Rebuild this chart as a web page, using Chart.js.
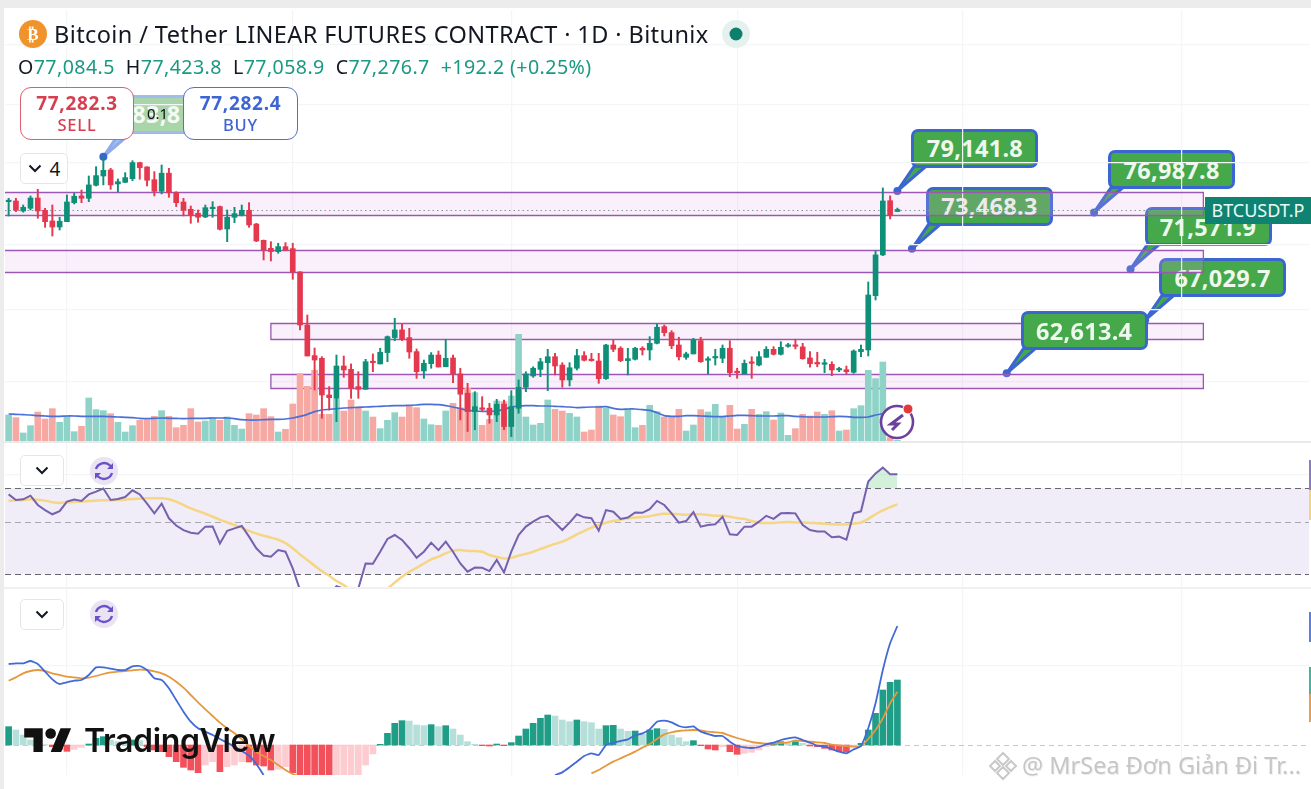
<!DOCTYPE html>
<html lang="en"><head><meta charset="utf-8">
<script src="https://cdn.jsdelivr.net/npm/chart.js@4"></script>
<style>
html,body{margin:0;padding:0;background:#fff;width:1311px;height:789px;overflow:hidden;font-family:"Noto Sans",sans-serif}
.abs{position:absolute}
canvas{position:absolute;z-index:2}
.ui{z-index:4}
.call{position:absolute;z-index:1;box-sizing:border-box;border:3px solid #3b66d1;border-radius:7px;background:#45a84a;color:#eef8ee;font:700 23.5px "Noto Sans",sans-serif;display:flex;align-items:center;justify-content:center;letter-spacing:.3px}
.tv{display:flex;align-items:center;justify-content:center;box-sizing:border-box;background:#fff;border:1.5px solid #e6e6e6;border-radius:5px}
.trade{box-sizing:border-box;background:#fff;border-radius:11px;text-align:center;font-weight:600}
</style></head><body>
<div class="abs" style="left:0;top:0;width:1311px;height:8px;background:#ececec"></div>
<div class="abs" style="left:0;top:0;width:4px;height:789px;background:#ececec"></div>
<div class="abs" style="left:4px;top:441px;width:1307px;height:1.5px;background:#e9e9ec"></div>
<div class="abs" style="left:4px;top:587px;width:1307px;height:1.5px;background:#f0f0f2"></div>
<svg id="tails" class="abs" style="left:0;top:0;z-index:1" width="1311" height="789"></svg>
<div id="calls"></div>
<canvas id="main" style="left:5px;top:10px" width="1304" height="431"></canvas>
<canvas id="rsi" style="left:5px;top:443px" width="1304" height="144"></canvas>
<canvas id="macd" style="left:5px;top:589px" width="1304" height="186"></canvas>

<!-- header -->
<svg class="abs ui" style="left:19px;top:20px" width="28" height="28"><circle cx="14" cy="14" r="14" fill="#f0932b"/><text x="14" y="20" text-anchor="middle" fill="#fff" font-family="DejaVu Sans" font-weight="700" font-size="17">₿</text></svg>
<div class="abs ui" style="left:54px;top:17px;font-size:23.5px;letter-spacing:.4px;color:#131722;white-space:nowrap;line-height:34px">Bitcoin / Tether LINEAR FUTURES CONTRACT · 1D · Bitunix</div>
<svg class="abs ui" style="left:722px;top:20px" width="28" height="28"><circle cx="14" cy="14" r="14" fill="#e4f1ef"/><circle cx="14" cy="14" r="6.5" fill="#0f7f6d"/></svg>
<div class="abs ui" style="left:18px;top:53px;font-size:19.6px;letter-spacing:.42px;line-height:28px;white-space:nowrap;color:#131722">O<span style="color:#1a9a82">77,084.5</span>&nbsp; H<span style="color:#1a9a82">77,423.8</span>&nbsp; L<span style="color:#1a9a82">77,058.9</span>&nbsp; C<span style="color:#1a9a82">77,276.7</span>&nbsp; <span style="color:#1a9a82">+192.2 (+0.25%)</span></div>

<!-- trade widget -->
<div class="abs ui" style="left:134px;top:93px;width:50px;height:40px;background:rgba(255,255,255,.08)"></div>
<div class="abs ui" style="left:147px;top:103px;font-size:15px;line-height:20px;color:#111">0.1</div>
<div class="abs ui trade" style="left:20px;top:87px;width:114px;height:53px;border:1.5px solid #d9606e;color:#d63f50">
  <div style="font-size:19px;letter-spacing:.7px;line-height:22px;margin-top:4px;font-weight:700">77,282.3</div><div style="font-size:16.5px;letter-spacing:.8px;line-height:22px;font-weight:500">SELL</div></div>
<div class="abs ui trade" style="left:183px;top:87px;width:115px;height:53px;border:1.5px solid #5470c8;color:#3f65d2">
  <div style="font-size:19px;letter-spacing:.7px;line-height:22px;margin-top:4px;font-weight:700">77,282.4</div><div style="font-size:16.5px;letter-spacing:.8px;line-height:22px;font-weight:500">BUY</div></div>

<!-- pane buttons -->
<div class="abs ui tv" style="left:20px;top:153px;width:48px;height:31px"><svg width="14" height="9" style="margin-right:8px"><path d="M1.5 1.5 7 7l5.5-5.5" stroke="#131722" stroke-width="2" fill="none"/></svg><span style="font-size:19px;color:#131722">4</span></div>
<div class="abs ui tv" style="left:20px;top:455px;width:44px;height:31px"><svg width="14" height="9"><path d="M1.5 1.5 7 7l5.5-5.5" stroke="#131722" stroke-width="2" fill="none"/></svg></div>
<div class="abs ui tv" style="left:20px;top:599px;width:44px;height:31px"><svg width="14" height="9"><path d="M1.5 1.5 7 7l5.5-5.5" stroke="#131722" stroke-width="2" fill="none"/></svg></div>
<svg class="abs ui" style="left:90px;top:457px" width="28" height="28" viewBox="0 0 28 28"><circle cx="14" cy="14" r="14" fill="#e9e3f4"/><path d="M6 12a8.5 8.5 0 0 1 14-3.5l1.5 1.5M22 16a8.5 8.5 0 0 1-14 3.5L6.5 18" stroke="#6a50cc" stroke-width="2.4" fill="none"/><path d="M23 6v6h-6zM5 22v-6h6z" fill="#6a50cc"/></svg>
<svg class="abs ui" style="left:90px;top:600px" width="28" height="28" viewBox="0 0 28 28"><circle cx="14" cy="14" r="14" fill="#e9e3f4"/><path d="M6 12a8.5 8.5 0 0 1 14-3.5l1.5 1.5M22 16a8.5 8.5 0 0 1-14 3.5L6.5 18" stroke="#6a50cc" stroke-width="2.4" fill="none"/><path d="M23 6v6h-6zM5 22v-6h6z" fill="#6a50cc"/></svg>

<!-- bolt -->
<svg class="abs ui" style="left:878px;top:402px" width="40" height="40"><circle cx="19" cy="20" r="16" fill="#fff" stroke="#6d3f9f" stroke-width="2.6"/><path d="M25 13 13 22h7l-6 6" stroke="#6d3f9f" stroke-width="3" fill="none"/><circle cx="30" cy="7" r="5" fill="#e23a3a" stroke="#fff" stroke-width="1"/></svg>

<!-- symbol label and price axis slivers -->
<div class="abs ui" style="left:1205px;top:197px;width:106px;height:27px;background:#0f8372;color:#eafaf6;font-size:18px;line-height:27px;text-align:center">BTCUSDT.P</div>
<div class="abs ui" style="left:1309px;top:460px;width:2px;height:30px;background:#8e7cc3"></div>
<div class="abs ui" style="left:1309px;top:490px;width:2px;height:30px;background:#f3d37c"></div>
<div class="abs ui" style="left:1309px;top:612px;width:2px;height:30px;background:#5a7fdc"></div>
<div class="abs ui" style="left:1309px;top:667px;width:2px;height:27px;background:#45b39d"></div>
<div class="abs ui" style="left:1309px;top:694px;width:2px;height:28px;background:#e8a050"></div>

<!-- TradingView logo -->
<svg class="abs ui" style="left:24px;top:723px" width="48" height="37" viewBox="0 0 36 28"><path d="M14 22H7V11H0V4h14v18zM28 22h-8l7.5-18h8L28 22z" fill="#111"/><circle cx="20" cy="8" r="4" fill="#111"/></svg>
<div class="abs ui" style="left:84px;top:721px;font:600 32px/40px Inter,sans-serif;color:#111;letter-spacing:-.35px;white-space:nowrap">TradingView</div>

<!-- watermark -->
<svg class="abs ui" style="left:988px;top:751px" width="30" height="30" viewBox="0 0 30 30" fill="none" stroke="#c9c9c9" stroke-width="2"><path d="M15 2 21 8l-6 6-6-6zM7 10l-5 5 5 5 5-5zM23 10l-5 5 5 5 5-5zM15 16l-6 6 6 6 6-6z"/></svg>
<div class="abs ui" style="left:1022px;top:749px;font-size:23.5px;line-height:32px;color:#c6c6c6;white-space:nowrap;text-shadow:1px 1px 1px rgba(0,0,0,.08)">@ MrSea Đơn Giản Đi Tr...</div>

<script>
const open_ = [78060,78130,77130,77400,78430,77200,76150,75560,76080,77960,78640,78400,79720,80680,81310,79860,80030,80400,82080,81620,
80300,79110,80970,78970,78030,77300,76910,76540,77360,77570,75370,76510,76740,77200,75850,74280,73520,73210,73680,73490,
71320,66620,64050,63830,60890,60630,63200,62930,61550,61340,63530,63370,64300,65550,66200,65550,64380,62800,63390,64100,
63140,63860,62560,61030,59600,59860,59860,59350,60170,58470,59860,61500,62400,62930,63470,63960,63280,62080,63020,64050,
63690,63610,62180,64930,64660,63640,63750,64660,64520,65070,66480,65970,64930,63910,64190,65290,63670,63860,63830,64660,
62740,62560,63470,63280,63910,64570,64160,64820,64870,64770,63860,63470,63340,63340,62880,62900,62690,64380,64520,69180,
72900,78160,77084.5];
const close_ = [78160,77200,77500,78430,77130,76080,75560,76120,78030,78610,78400,79760,80720,81270,79760,80090,80510,82080,81550,80240,
79110,80970,78970,77960,77200,76740,76510,77460,77500,75340,76510,76870,77200,75760,74220,73360,73210,73680,73360,71320,
66620,64020,63690,60890,60680,63200,62880,61420,61340,63550,63470,64330,65630,66200,65410,64350,62740,63420,64100,63120,
63830,62560,60950,59600,59980,59780,59350,60170,58470,59980,61500,62560,63020,63550,63960,63200,62080,63060,64050,63670,
63640,62180,64930,64570,63640,63800,64660,64520,65070,66430,65970,64870,63960,64190,65350,63550,63750,63910,64660,62660,
62660,63420,63420,63960,64570,64160,64740,64870,64820,63800,63390,63370,63390,62880,62960,62740,64430,64570,69240,72900,
78130,76740,77276.7];
const high_ = [78400,78400,77730,78640,79310,77400,77730,76510,78740,78910,79240,80680,81650,82700,81480,80370,81030,82280,82120,81650,
81130,81830,81480,79070,78400,77630,77230,77730,78060,77630,77230,77500,77730,77960,75920,74310,74150,74000,74060,74000,
71350,67480,64680,63960,61550,64100,64020,63370,62740,63750,64190,64660,65690,67200,66710,66340,64600,63690,64300,64430,
65410,64100,63020,61810,61150,60760,60240,60550,60500,61230,62080,62740,63140,63830,64570,64240,63470,63470,64570,64380,
64240,64240,64990,65350,64790,64660,64740,64790,65630,66710,66620,66140,65580,64330,65490,65580,63960,64570,64930,65290,
63020,63690,63960,64380,64790,64790,65210,65070,65410,65070,64380,64330,63750,63550,63100,63200,64520,64930,70410,73300,
79450,78640,77423.8];
const low_ = [76640,77070,77010,77230,76410,75530,74690,75270,76080,77830,77960,78060,79650,79760,79310,79040,79990,80200,80340,79650,
78640,78840,78500,77570,76640,75920,76020,76470,76510,75270,74150,75980,76640,75530,74150,72430,72330,73050,73300,70650,
66200,64020,61280,59100,59730,58840,62290,60630,60630,61340,62740,63370,63550,65290,65290,63830,62210,62210,63020,63120,
63140,61860,58970,58100,58230,59600,58720,58840,58230,57720,59480,61150,62290,62340,61230,62480,61500,61600,62880,63610,
63590,61810,62130,64380,63550,62480,63690,64100,63690,65010,65690,64620,63690,63750,64190,63500,62560,63280,63470,62340,
62210,62560,62210,63200,63910,64100,64100,64740,64600,63750,63100,63140,62660,62420,62740,62560,62610,63960,64020,68800,
72830,76350,77058.9];
const volume_ = [78,70,24,46,87,66,97,56,75,28,44,129,94,91,82,56,27,46,62,63,
74,91,74,40,47,97,57,60,70,62,72,47,36,82,78,97,73,27,35,111,
202,164,212,80,80,125,90,123,102,90,72,37,62,85,72,104,100,66,49,47,
90,113,100,158,145,47,65,120,118,135,320,72,48,53,123,95,90,83,72,27,
33,105,98,78,73,95,40,47,107,88,72,72,95,30,48,94,87,110,72,107,
36,50,95,80,88,63,84,17,37,80,75,87,80,91,30,33,97,106,212,187,
237,10,2];
const volumeMA_ = [81,80,79,78,76,75,74,74,75,75,74,74,74,74,73,72,71,70,68,67,
68,69,68,68,67,68,68,68,69,69,69,67,64,63,63,64,65,65,66,69,
74,80,88,93,95,97,99,100,101,102,103,104,105,106,106,107,108,110,110,109,
106,102,97,92,90,89,89,90,95,102,105,106,106,105,105,104,103,102,100,101,
102,102,103,98,95,96,96,94,92,85,76,74,74,76,76,75,74,73,73,75,
77,77,76,75,75,75,76,76,74,73,72,72,72,73,74,73,71,71,72,78,
82,86,91];
const rsi_ = [65.9,62.4,62.8,65.1,59.4,56.5,54.2,55.9,61.4,62.6,61.8,65.9,67.7,69.8,62.4,63.0,64.2,68.6,65.9,60.2,
54.7,60.2,52.1,48.5,46.4,45.2,44.8,48.0,48.1,40.7,46.1,47.2,48.3,43.5,38.8,36.1,35.7,38.1,37.5,31.8,
25.7,24.9,25.3,22.9,24.5,26.7,26.1,24.5,26.1,33.4,33.3,37.5,42.5,44.2,42.1,38.8,35.3,37.5,41.0,38.1,
41.4,37.5,33.4,30.8,32.1,32.0,31.0,34.6,30.6,37.5,44.2,48.0,50.4,52.6,53.4,49.9,46.4,49.9,54.2,52.6,
52.1,46.1,56.5,55.6,51.8,52.5,55.2,55.0,57.0,61.8,59.4,54.7,49.9,50.7,55.4,48.0,48.8,49.1,52.9,44.5,
44.2,48.0,48.0,50.4,53.4,51.8,54.7,54.9,54.7,48.8,46.4,45.8,45.8,43.2,43.5,42.2,54.7,55.8,74.8,81.0,
85.8,80.4,80.4];
const rsiMA_ = [61.8,62.2,62.4,62.8,62.6,62.0,61.0,60.6,61.0,61.2,61.4,61.8,62.0,62.2,62.2,62.4,62.6,63.0,63.2,63.4,
63.4,63.4,62.8,61.4,59.4,57.4,55.9,54.5,52.9,51.4,50.0,48.8,47.5,46.0,44.8,43.9,43.1,42.2,40.8,38.8,
36.5,34.6,32.7,31.0,29.6,28.1,27.0,25.7,25.3,24.9,24.9,25.3,26.1,27.7,29.3,30.8,32.0,33.4,34.8,35.7,
36.9,37.9,38.1,37.8,37.8,37.5,36.3,35.6,35.1,35.3,36.1,36.7,37.5,38.5,39.5,40.5,41.4,42.8,44.5,46.0,
47.5,48.8,49.9,50.7,51.4,52.1,52.5,52.8,53.2,54.0,54.5,54.4,54.2,54.0,54.2,54.2,53.8,53.4,53.4,52.9,
52.2,51.8,50.7,49.9,49.8,49.8,50.0,50.2,50.0,50.0,49.8,49.6,49.4,49.1,49.0,49.0,49.4,50.0,51.8,54.2,
56.3,58.1,59.8];
const macd_ = [243,245,245,252,243,220,197,183,188,193,195,210,233,233,229,225,225,236,237,225,
200,195,170,135,100,70,50,40,30,18,7,-5,-18,-32,-57,-90,
null,null,null,null,null,null,null,null,null,null,null,null,null,null,null,null,null,null,null,null,
null,null,null,null,null,null,null,null,null,null,null,null,null,null,null,null,null,null,null,
-90,-82,-67,-50,-33,-25,-30,0,7,12,17,29,35,47,70,73,68,57,53,56,40,33,27,27,10,-3,-7,-9,-6,2,
7,15,20,23,15,7,-2,-4,-12,-20,-25,-13,-3,50,125,225,305,357];
const signal_ = [193,203,215,222,225,222,215,210,205,203,200,202,207,213,218,220,222,224,226,225,
221,215,205,190,172,150,128,107,87,67,50,35,17,-3,-20,-33,-45,-60,-75,-87,-95,
null,null,null,null,null,null,null,null,null,null,null,null,null,null,null,null,null,null,null,null,
null,null,null,null,null,null,null,null,null,null,null,null,null,null,null,null,null,null,null,
-85,-75,-62,-50,-40,-30,-20,-8,3,18,32,38,42,44,45,44,40,38,36,28,21,15,9,6,4,4,6,8,14,12,10,8,6,1,-2,-3,-5,-3,18,45,80,125,160];
const hist_ = [55,45,30,15,10,1,-5,-13,-19,-13,-7,3,20,25,15,10,8,15,13,-5,
-15,-20,-35,-50,-67,-75,-83,-60,-50,-80,-65,-60,-50,-51,-60,-63,-75,-73,-65,-83,
-110,-125,-135,-145,-155,-145,-125,-105,-90,-60,-27,2,35,65,73,72,60,58,61,55,
58,48,30,10,2,-2,-3,3,-2,7,27,48,65,80,90,87,75,70,75,70,
67,48,58,59,48,41,42,33,45,49,47,30,22,10,13,-2,-12,-15,-5,-20,
-28,-25,-22,-15,-5,2,10,7,10,5,-3,-5,-10,-15,-20,-21,-5,5,45,95,
165,188,195];

const slotCount = 179;
const categories = Array.from({length: slotCount}, (_, i) => String(i));
const gridSlots = [8,39,69,100,131,161];
const gridPrices = [95460,88390,82040,73830,67920,61920];
const rsiLevels = [70,50,30];
const zones = [
  {from:null,to:164,top:79040,bottom:76740},
  {from:null,to:164,top:73360,bottom:71270},
  {from:36,to:164,top:66800,bottom:65430},
  {from:36,to:164,top:62560,bottom:61440}
];
const callouts = [
  {text:'79,141.8',slot:122,price:79141.8},
  {text:'73,468.3',slot:124,price:73468.3},
  {text:'76,987.8',slot:149,price:76987.8},
  {text:'71,571.9',slot:154,price:71571.9},
  {text:'67,029.7',slot:156,price:67029.7},
  {text:'62,613.4',slot:137,price:62613.4,front:true},
  {text:'83,8',slot:13,price:82700,faded:true}
];

const UP='#0f8f78', DOWN='#e5384f', UP_V='#8fd2c7', DOWN_V='#f6a8a3';
const GRID='#f4f5f7';
const isUp = close_.map((c,i)=>c>=open_[i]);
const xScale = {type:'category',labels:categories,offset:true,
  grid:{color:c=>gridSlots.includes(c.index)?GRID:'rgba(0,0,0,0)',offset:false,drawTicks:false,lineWidth:1.2},
  border:{display:false},
  ticks:{display:false,autoSkip:false},
  afterFit(s){s.height=0}};
const hiddenY = (extra)=>Object.assign({position:'left',
  border:{display:false},
  grid:{color:GRID,drawTicks:false,lineWidth:1.2},
  ticks:{display:false},
  afterFit(s){s.width=0}},extra);
const baseOpts = {responsive:false,animation:false,maintainAspectRatio:false,
  devicePixelRatio:1,
  layout:{padding:0},
  plugins:{legend:{display:false},tooltip:{enabled:false}},
  events:[]};

const zonePlugin = {id:'zones',beforeDatasetsDraw(ch){
  const {ctx,scales:{x,y},chartArea:a}=ch; ctx.save();
  zones.forEach(z=>{
    const l=z.from===null?a.left:x.getPixelForValue(z.from), r=x.getPixelForValue(z.to);
    const t=Math.round(y.getPixelForValue(z.top))+.5, b=Math.round(y.getPixelForValue(z.bottom))+.5;
    ctx.fillStyle='rgba(225,170,235,.18)'; ctx.fillRect(l,t,r-l,b-t);
    ctx.strokeStyle='#9a58b4'; ctx.lineWidth=1.3;
    ctx.beginPath();
    if(z.from===null){ctx.moveTo(l,t);ctx.lineTo(r,t);ctx.lineTo(r,b);ctx.lineTo(l,b);}
    else ctx.rect(l,t,r-l,b-t);
    ctx.stroke();
  });
  const py=y.getPixelForValue(close_[close_.length-1])+1;
  ctx.strokeStyle='#7f9c97'; ctx.lineWidth=1; ctx.setLineDash([1.5,3]);
  ctx.beginPath(); ctx.moveTo(a.left,py); ctx.lineTo(x.getPixelForValue(164),py); ctx.stroke();
  ctx.restore();
}};

const main = new Chart(document.getElementById('main'),{
  type:'bar',
  data:{labels:categories,datasets:[
    {type:'bar',data:open_.map((o,i)=>[o,close_[i]]),backgroundColor:isUp.map(u=>u?UP:DOWN),barThickness:5,grouped:false,minBarLength:1.5,order:1,yAxisID:'y'},
    {type:'bar',data:low_.map((l,i)=>[l,high_[i]]),backgroundColor:isUp.map(u=>u?UP:DOWN),barThickness:1.3,grouped:false,order:2,yAxisID:'y'},
    {type:'line',data:volumeMA_,borderColor:'#4a6fd6',borderWidth:1.7,pointRadius:0,tension:.2,order:3,yAxisID:'yv'},
    {type:'bar',data:volume_,backgroundColor:isUp.map(u=>u?UP_V:DOWN_V),barThickness:6,grouped:false,order:4,yAxisID:'yv'}
  ]},
  options:Object.assign({},baseOpts,{scales:{
    x:xScale,
    y:hiddenY({type:'logarithmic',min:57395,max:99860,afterBuildTicks(s){s.ticks=gridPrices.map(v=>({value:v}))}}),
    yv:{type:'linear',display:false,min:0,max:1293,position:'right'}
  }}),
  plugins:[zonePlugin]
});

const rsiPlugin = {id:'rsiBand',beforeDatasetsDraw(ch){
  const {ctx,scales:{y},chartArea:a}=ch; ctx.save();
  const t=y.getPixelForValue(rsiLevels[0]), b=y.getPixelForValue(rsiLevels[2]);
  ctx.fillStyle='#f0ecf8'; ctx.fillRect(a.left,t,a.right-a.left,b-t);
  rsiLevels.forEach((v,i)=>{
    ctx.strokeStyle=i===1?'#a9a9b0':'#66666c'; ctx.lineWidth=1.2; ctx.setLineDash([6,4]);
    const p=Math.round(y.getPixelForValue(v))+.5;
    ctx.beginPath();ctx.moveTo(a.left,p);ctx.lineTo(a.right,p);ctx.stroke();
  });
  ctx.restore();
}};
new Chart(document.getElementById('rsi'),{
  type:'line',
  data:{labels:categories,datasets:[
    {data:rsi_,borderColor:'#7561ad',borderWidth:2,pointRadius:0,order:1,
     fill:{target:{value:70},above:'rgba(130,215,150,.35)',below:'rgba(0,0,0,0)'}},
    {data:rsiMA_,borderColor:'#f6d682',borderWidth:2.5,pointRadius:0,tension:.2,order:2}
  ]},
  options:Object.assign({},baseOpts,{scales:{
    x:xScale,
    y:hiddenY({type:'logarithmic',min:26.5,max:109.3,afterBuildTicks(s){s.ticks=[{value:80}]}})
  }}),
  plugins:[rsiPlugin]
});

const histColors = hist_.map((v,i)=>{
  const rising = i===0 || v>hist_[i-1];
  return v>=0 ? (rising?'#1f9d87':'#b7dfd9') : (rising?'#fcccd1':'#f2505a');
});
const zeroPlugin = {id:'zero',beforeDatasetsDraw(ch){
  const {ctx,scales:{y},chartArea:a}=ch; ctx.save();
  const p=Math.round(y.getPixelForValue(0))+.5;
  ctx.strokeStyle='#c6c6cc'; ctx.lineWidth=1; ctx.setLineDash([5,4]);
  ctx.beginPath();ctx.moveTo(a.left,p);ctx.lineTo(a.right,p);ctx.stroke();
  ctx.restore();
}};
new Chart(document.getElementById('macd'),{
  type:'bar',
  data:{labels:categories,datasets:[
    {type:'line',data:macd_,borderColor:'#4169d8',borderWidth:1.8,pointRadius:0,tension:.15,order:1},
    {type:'line',data:signal_,borderColor:'#e6983e',borderWidth:1.8,pointRadius:0,tension:.15,order:2},
    {type:'bar',data:hist_,backgroundColor:histColors,barThickness:6,order:3}
  ]},
  options:Object.assign({},baseOpts,{scales:{
    x:xScale,
    y:hiddenY({type:'linear',min:-90,max:468,afterBuildTicks(s){s.ticks=[{value:237}]}})
  }}),
  plugins:[zeroPlugin]
});

/* callouts anchored through the price scale */
(function(){
  const NS='http://www.w3.org/2000/svg', svg=document.getElementById('tails'), host=document.getElementById('calls');
  const ox=5, oy=10;
  callouts.forEach(c=>{
    const px=main.scales.x.getPixelForValue(c.slot)+ox, py=main.scales.y.getPixelForValue(c.price)+oy;
    const bx=px+14, by=py-62;
    const tail=document.createElementNS(NS,'polygon');
    tail.setAttribute('points',`${px},${py} ${px+17},${py-25} ${px+29},${py-25}`);
    tail.setAttribute('fill',c.faded?'#a9bff0':'#45a84a');
    tail.setAttribute('stroke',c.faded?'#8fabec':'#3b66d1');
    tail.setAttribute('stroke-width','3');
    svg.appendChild(tail);
    const dot=document.createElementNS(NS,'circle');
    dot.setAttribute('cx',px);dot.setAttribute('cy',py);dot.setAttribute('r','4');dot.setAttribute('fill','#3b66d1');
    svg.appendChild(dot);
    const d=document.createElement('div');
    d.className='call'; d.textContent=c.text;
    d.style.left=bx+'px'; d.style.top=by+'px'; d.style.width='127px'; d.style.height='39px';
    if(c.front) d.style.zIndex=3;
    if(c.faded){d.style.background='#a3d2a3';d.style.borderColor='#9bb6ec';d.style.color='#f3fbf3';d.style.justifyContent='flex-start';d.style.paddingLeft='12px';}
    host.appendChild(d);
  });
})();
</script>
</body></html>
